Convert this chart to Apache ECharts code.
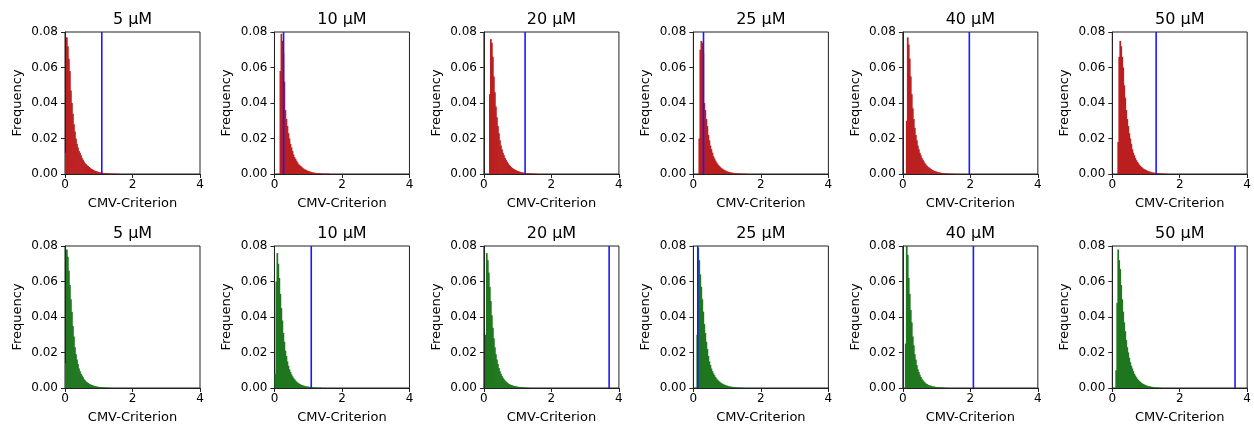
<!DOCTYPE html>
<html>
<head>
<meta charset="utf-8">
<script src="https://cdn.jsdelivr.net/npm/echarts@6/dist/echarts.min.js"></script>
<style>
html,body{margin:0;padding:0;background:#fff;}
#chart{width:1254px;height:426px;}
</style>
</head>
<body>
<div id="chart"></div>
<script>
// ---- Data ----
const titles = ['5 μM', '10 μM', '20 μM', '25 μM', '40 μM', '50 μM'];
const binWidth = 0.03;
const xTicks = [0, 2, 4];
const yTicks = [0, 0.02, 0.04, 0.06, 0.08];

// Top row (red) : first bin left edge, frequencies, blue threshold line
const red5Start = 0.0;
const red5 = [0.012,0.077,0.072,0.065,0.058,0.047,0.040,0.034,0.028,0.024,0.020,0.017,0.015,0.013,0.012,0.0105,0.009,0.008,0.007,0.006,0.0055,0.005,0.0045,0.004,0.0035,0.003,0.0027,0.0024,0.002,0.0018,0.0016,0.0014,0.0012,0.001,0.0009,0.0008,0.0007,0.0006,0.0005,0.0005,0.0004,0.0004,0.0003,0.0003,0.0002,0.0002,0.0002,0.0002,0.0001,0.0001,0.0001,0.0001,0.0001];
const red10Start = 0.15;
const red10 = [0.058,0.079,0.075,0.068,0.052,0.036,0.031,0.027,0.023,0.020,0.017,0.015,0.013,0.011,0.0095,0.0085,0.0075,0.0065,0.0055,0.005,0.0045,0.004,0.0035,0.003,0.0027,0.0024,0.0021,0.0018,0.0016,0.0014,0.0012,0.001,0.0009,0.0008,0.0007,0.0006,0.0005,0.0005,0.0004,0.0004,0.0003,0.0003,0.0002,0.0002,0.0002,0.0001,0.0001,0.0001,0.0001];
const red20Start = 0.15;
const red20 = [0.045,0.076,0.074,0.066,0.055,0.046,0.038,0.032,0.027,0.023,0.019,0.016,0.014,0.012,0.0105,0.009,0.008,0.007,0.006,0.0052,0.0046,0.004,0.0035,0.0031,0.0027,0.0024,0.0021,0.0018,0.0016,0.0014,0.0012,0.001,0.0009,0.0008,0.0007,0.0006,0.0005,0.0004,0.0004,0.0003,0.0003,0.0002,0.0002,0.0002,0.0001,0.0001,0.0001];
const red25Start = 0.15;
const red25 = [0.02,0.07,0.075,0.074,0.068,0.04,0.036,0.031,0.027,0.022,0.019,0.016,0.014,0.012,0.010,0.0088,0.0076,0.0066,0.0058,0.005,0.0044,0.0038,0.0033,0.0029,0.0025,0.0022,0.0019,0.0016,0.0014,0.0012,0.001,0.0009,0.0008,0.0007,0.0006,0.0005,0.0004,0.0004,0.0003,0.0003,0.0002,0.0002,0.0002,0.0001,0.0001,0.0001,0.0001];
const red40Start = 0.09;
const red40 = [0.03,0.077,0.073,0.065,0.055,0.045,0.037,0.031,0.026,0.022,0.019,0.016,0.014,0.012,0.0105,0.009,0.008,0.007,0.006,0.0053,0.0047,0.0041,0.0036,0.0032,0.0028,0.0024,0.0021,0.0018,0.0016,0.0014,0.0012,0.001,0.0009,0.0008,0.0007,0.0006,0.0005,0.0004,0.0004,0.0003,0.0003,0.0002,0.0002,0.0002,0.0001,0.0001,0.0001,0.0001];
const red50Start = 0.15;
const red50 = [0.018,0.066,0.075,0.072,0.066,0.06,0.05,0.043,0.036,0.031,0.027,0.023,0.02,0.017,0.014,0.012,0.0105,0.009,0.0078,0.0068,0.006,0.0052,0.0045,0.004,0.0035,0.003,0.0027,0.0024,0.0021,0.0018,0.0016,0.0014,0.0012,0.001,0.0009,0.0008,0.0007,0.0006,0.0005,0.0004,0.0004,0.0003,0.0003,0.0002,0.0002,0.0002,0.0001,0.0001,0.0001];
const redLines = [1.09, 0.27, 1.22, 0.30, 1.97, 1.30];

// Bottom row (green)
const green5Start = 0.0;
const green5 = [0.014,0.078,0.074,0.066,0.058,0.050,0.043,0.035,0.029,0.023,0.019,0.016,0.0135,0.011,0.0095,0.008,0.007,0.006,0.005,0.0043,0.0037,0.0032,0.0028,0.0024,0.0021,0.0018,0.0016,0.0014,0.0012,0.001,0.0009,0.0008,0.0007,0.0006,0.0005,0.0004,0.0004,0.0003,0.0003,0.0002,0.0002,0.0001,0.0001,0.0001,0.0001];
const green10Start = 0.0;
const green10 = [0.008,0.060,0.076,0.070,0.062,0.053,0.045,0.038,0.031,0.026,0.021,0.018,0.015,0.0125,0.0105,0.009,0.0077,0.0066,0.0057,0.0049,0.0042,0.0036,0.0031,0.0027,0.0023,0.002,0.0017,0.0015,0.0013,0.0011,0.001,0.0009,0.0008,0.0007,0.0006,0.0005,0.0004,0.0004,0.0003,0.0003,0.0002,0.0002,0.0001,0.0001,0.0001,0.0001];
const green20Start = 0.03;
const green20 = [0.03,0.076,0.072,0.065,0.057,0.049,0.041,0.034,0.028,0.023,0.019,0.016,0.0135,0.0113,0.0095,0.008,0.0068,0.0058,0.0049,0.0042,0.0036,0.0031,0.0027,0.0023,0.002,0.0017,0.0015,0.0013,0.0011,0.001,0.0009,0.0008,0.0007,0.0006,0.0005,0.0004,0.0004,0.0003,0.0003,0.0002,0.0002,0.0001,0.0001,0.0001];
const green25Start = 0.09;
const green25 = [0.03,0.079,0.072,0.064,0.057,0.05,0.043,0.036,0.031,0.026,0.022,0.018,0.015,0.013,0.011,0.0095,0.0082,0.0072,0.0062,0.0054,0.0047,0.0041,0.0036,0.0031,0.0027,0.0024,0.0021,0.0018,0.0016,0.0014,0.0012,0.001,0.0009,0.0008,0.0007,0.0006,0.0005,0.0004,0.0004,0.0003,0.0003,0.0002,0.0002,0.0001,0.0001,0.0001];
const green40Start = 0.06;
const green40 = [0.025,0.08,0.075,0.062,0.053,0.044,0.037,0.029,0.024,0.019,0.016,0.013,0.0105,0.009,0.0075,0.0062,0.0052,0.0044,0.0037,0.0031,0.0026,0.0022,0.0019,0.0016,0.0014,0.0012,0.001,0.0009,0.0008,0.0007,0.0006,0.0005,0.0004,0.0004,0.0003,0.0003,0.0002,0.0002,0.0001,0.0001,0.0001,0.0001];
const green50Start = 0.09;
const green50 = [0.01,0.048,0.078,0.072,0.067,0.058,0.05,0.043,0.037,0.032,0.027,0.023,0.02,0.017,0.0145,0.0125,0.011,0.0095,0.008,0.007,0.006,0.0052,0.0045,0.0039,0.0034,0.0029,0.0025,0.0022,0.0019,0.0016,0.0014,0.0012,0.001,0.0009,0.0008,0.0007,0.0006,0.0005,0.0004,0.0003,0.0003,0.0002,0.0002,0.0001,0.0001];
const greenLines = [null, 1.09, 3.71, 0.13, 2.09, 3.64];

// ---- Build ----
const redHists = [[red5Start, red5],[red10Start, red10],[red20Start, red20],[red25Start, red25],[red40Start, red40],[red50Start, red50]];
const greenHists = [[green5Start, green5],[green10Start, green10],[green20Start, green20],[green25Start, green25],[green40Start, green40],[green50Start, green50]];

const RED = '#bb1f1f';
const GREEN = '#1f771f';
const BLUE = '#1a1aff';
const FONT = 'DejaVu Sans';

const colLeft = 65, colStep = 209.46, plotW = 135, plotH = 142;
const rowTop = [32, 246];
const titleTop = [12, 226];

const grids = [], xAxes = [], yAxes = [], series = [], titleArr = [];

function makeBins(start, vals) {
  return vals.map((v, i) => [start + i * binWidth, start + (i + 1) * binWidth, v]);
}

function renderBar(color) {
  return function (params, api) {
    const p0 = api.coord([api.value(0), api.value(2)]);
    const p1 = api.coord([api.value(1), 0]);
    return {
      type: 'rect',
      shape: { x: p0[0], y: p0[1], width: p1[0] - p0[0] + 0.7, height: p1[1] - p0[1] },
      style: { fill: color }
    };
  };
}

[redHists, greenHists].forEach((hists, r) => {
  const lines = r === 0 ? redLines : greenLines;
  const color = r === 0 ? RED : GREEN;
  hists.forEach((h, c) => {
    const idx = grids.length;
    const left = colLeft + c * colStep;
    grids.push({ left: left, top: rowTop[r], width: plotW, height: plotH, show: true, borderColor: '#222', borderWidth: 1, backgroundColor: 'transparent' });
    titleArr.push({ text: titles[c], left: left + plotW / 2, top: titleTop[r], textAlign: 'center', padding: 0,
      textStyle: { fontFamily: FONT, fontSize: 16, fontWeight: 'normal', color: '#000' } });
    xAxes.push({
      gridIndex: idx, type: 'value', min: 0, max: 4, interval: 2,
      name: 'CMV-Criterion', nameLocation: 'middle', nameGap: 23,
      nameTextStyle: { fontFamily: FONT, fontSize: 13, color: '#000' },
      axisLine: { show: true, lineStyle: { color: '#222', width: 1 } },
      axisTick: { show: true, length: 4, lineStyle: { color: '#222' } },
      axisLabel: { fontFamily: FONT, fontSize: 12, color: '#000', margin: 5 },
      splitLine: { show: false }
    });
    yAxes.push({
      gridIndex: idx, type: 'value', min: 0, max: 0.08, interval: 0.02,
      name: 'Frequency', nameLocation: 'middle', nameGap: 41, nameRotate: 90,
      nameTextStyle: { fontFamily: FONT, fontSize: 13, color: '#000' },
      axisLine: { show: true, lineStyle: { color: '#222', width: 1 } },
      axisTick: { show: true, length: 4, lineStyle: { color: '#222' } },
      axisLabel: { fontFamily: FONT, fontSize: 12, color: '#000', margin: 7, formatter: v => v.toFixed(2) },
      splitLine: { show: false }
    });
    series.push({
      type: 'custom', xAxisIndex: idx, yAxisIndex: idx,
      renderItem: renderBar(color), clip: true,
      encode: { x: [0, 1], y: 2 },
      data: makeBins(h[0], h[1]), silent: true, animation: false
    });
    if (lines[c] !== null) {
      series.push({
        type: 'line', xAxisIndex: idx, yAxisIndex: idx,
        data: [[lines[c], 0], [lines[c], 0.08]],
        showSymbol: false, symbol: 'none', silent: true, animation: false,
        lineStyle: { color: BLUE, width: 1.6 }, z: 5
      });
    }
  });
});

const chart = echarts.init(document.getElementById('chart'), null, { renderer: 'canvas' });
chart.setOption({
  animation: false,
  backgroundColor: '#fff',
  title: titleArr,
  grid: grids,
  xAxis: xAxes,
  yAxis: yAxes,
  series: series
});
</script>
</body>
</html>
